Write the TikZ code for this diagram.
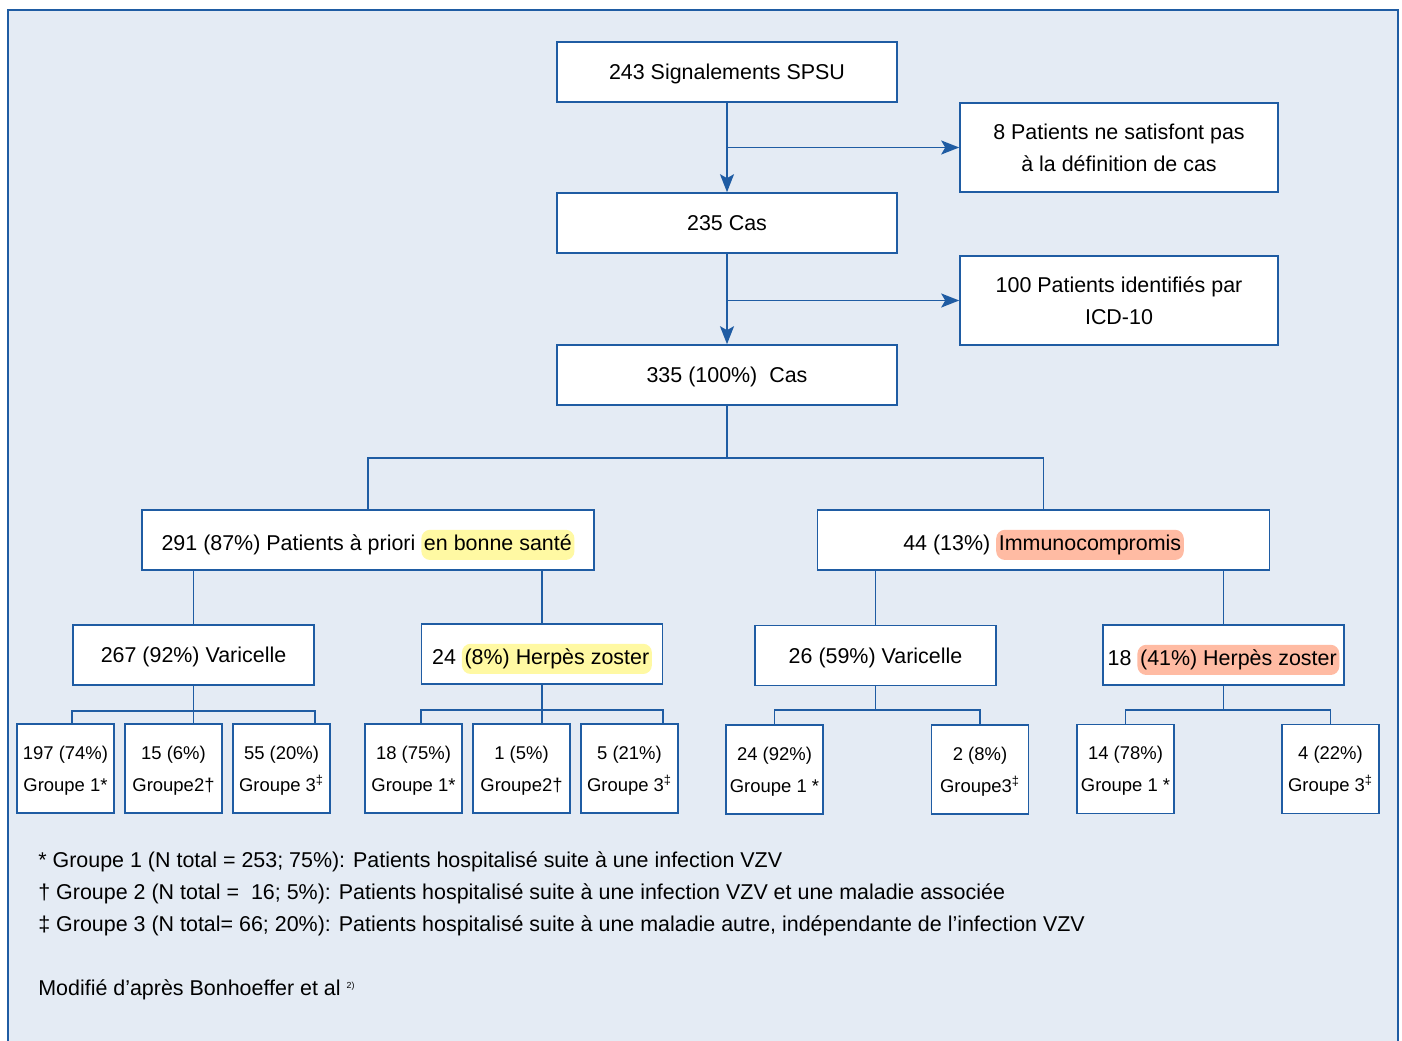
\documentclass[tikz,border=0pt]{standalone}
\usepackage{fontspec}
\setmainfont{Liberation Sans}
\usepackage{tikz}
\usetikzlibrary{arrows.meta, positioning}
\definecolor{fondbleu}{HTML}{E4EBF4}
\definecolor{traitbleu}{HTML}{1F5CA3}
\definecolor{surjaune}{HTML}{FFF9A3}
\definecolor{surrose}{HTML}{FFBBA3}
% surlignage arrondi derriere une partie du texte
\newcommand{\surligne}[2]{\tikz[baseline]\node[anchor=base,fill=#1,draw=none,rounded corners=5pt,
  minimum width=0pt,minimum height=0pt,inner xsep=1.5pt,inner ysep=2.5pt,
  text height=.75em,text depth=.25em] (hl) {#2};}

\begin{document}
\begin{tikzpicture}[x=0.2mm, y=-0.2mm, >={Stealth[length=3.6mm,width=2.8mm,inset=0.8mm]},
        boite/.style={draw=traitbleu,line width=0.9pt,fill=white,minimum width=68mm,
          minimum height=12mm,inner sep=2pt,align=center,text depth=0pt,
          font=\fontsize{12.2}{18.2}\selectfont},
        large/.style={minimum width=63.6mm,minimum height=17.8mm},
        branche/.style={minimum width=90.4mm},
        sous/.style={minimum width=48.2mm},
        feuille/.style={boite,minimum width=19.4mm,minimum height=17.8mm,inner sep=1pt,
          font=\fontsize{10.5}{18.2}\selectfont},
        lien/.style={draw=traitbleu,line width=1.1pt},
        note/.style={anchor=west,inner sep=0pt,font=\fontsize{12.2}{14}\selectfont}]
        % cadre et fond
        \useasboundingbox (0,0) rectangle (1402,1041);
        \draw[fill=fondbleu,draw=traitbleu,line width=1.2pt] (8,10) rectangle (1398,1070);
        % partie haute
        \node[boite] (signal) at (727,72) {243 Signalements SPSU};
        \node[boite,large] (exclus) at (1119,147.5) {8 Patients ne satisfont pas\\à la définition de cas};
        \node[boite] (cas) at (727,223) {235 Cas};
        \node[boite,large] (icd) at (1119,300.5) {100 Patients identifiés par\\ICD-10};
        \node[boite] (total) at (727,375) {335 (100\%)\ \ Cas};
        % deux groupes de patients
        \node[boite,branche] (sain) at (368,540) {291 (87\%) Patients à priori \surligne{surjaune}{en bonne santé}};
        \node[boite,branche] (immun) at (1043.5,540) {44 (13\%) \surligne{surrose}{Immunocompromis}};
        \node[boite,sous] (varS) at (193.5,655) {267 (92\%) Varicelle};
        \node[boite,sous] (hzS) at (542,654) {24 \surligne{surjaune}{(8\%) Herpès zoster}};
        \node[boite,sous] (varI) at (875.5,655.5) {26 (59\%) Varicelle};
        \node[boite,sous] (hzI) at (1223.5,655) {18 \surligne{surrose}{(41\%) Herpès zoster}};
        % feuilles
        \node[feuille] (g1S) at (65.5,768.5) {197 (74\%)\\Groupe 1*};
        \node[feuille] (g2S) at (173.5,768.5) {15 (6\%)\\Groupe2†};
        \node[feuille] (g3S) at (281.5,768.5) {55 (20\%)\\Groupe 3\textsuperscript{‡}};
        \node[feuille] (g1H) at (413.5,768.5) {18 (75\%)\\Groupe 1*};
        \node[feuille] (g2H) at (521.5,768.5) {1 (5\%)\\Groupe2†};
        \node[feuille] (g3H) at (629.5,768.5) {5 (21\%)\\Groupe 3\textsuperscript{‡}};
        \node[feuille] (g1V) at (774.5,769.5) {24 (92\%)\\Groupe 1 *};
        \node[feuille] (g3V) at (980,769.5) {2 (8\%)\\Groupe3\textsuperscript{‡}};
        \node[feuille] (g1Z) at (1125.5,769) {14 (78\%)\\Groupe 1 *};
        \node[feuille] (g3Z) at (1330.5,769) {4 (22\%)\\Groupe 3\textsuperscript{‡}};
        % fleches
        \draw[lien,->] (signal) -- (cas);
        \draw[lien,->] (signal.south |- exclus.west) -- (exclus.west);
        \draw[lien,->] (cas) -- (total);
        \draw[lien,->] (cas.south |- icd.west) -- (icd.west);
        % arbre
        \draw[lien] (total.south) -- ++(0,52) coordinate (j0);
        \draw[lien] (sain.north) |- (j0) -| (immun.north);
        \draw[lien] (varS.north) -- (varS.north |- sain.south);
        \draw[lien] (hzS.north) -- (hzS.north |- sain.south);
        \draw[lien] (varI.north) -- (varI.north |- immun.south);
        \draw[lien] (hzI.north) -- (hzI.north |- immun.south);
        \path (varS.south) ++(0,25) coordinate (j1);
        \draw[lien] (varS.south) -- (varS.south |- g2S.north);
        \draw[lien] (varS.west |- g1S.north) |- (j1) -| (varS.east |- g3S.north);
        \path (hzS.south) ++(0,25) coordinate (j2);
        \draw[lien] (hzS.south) -- (hzS.south |- g2H.north);
        \draw[lien] (hzS.west |- g1H.north) |- (j2) -| (hzS.east |- g3H.north);
        \draw[lien] (varI.south) -- ++(0,24) coordinate (j3);
        \draw[lien] (g1V.north) |- (j3) -| (g3V.north);
        \draw[lien] (hzI.south) -- ++(0,24) coordinate (j4);
        \draw[lien] (g1Z.north) |- (j4) -| (g3Z.north);
        % notes
        \node[note] (n1) at (38,862) {* Groupe 1 (N total = 253; 75\%): Patients hospitalisé suite à une infection VZV};
        \node[note] (n2) at (38,894) {† Groupe 2 (N total =\ \ 16; 5\%): Patients hospitalisé suite à une infection VZV et une maladie associée};
        \node[note] (n3) at (38,926) {‡ Groupe 3 (N total= 66; 20\%): Patients hospitalisé suite à une maladie autre, indépendante de l’infection VZV};
        \node[note] (n4) at (38,990) {Modifié d’après Bonhoeffer et al \textsuperscript{\tiny 2)}};
    \end{tikzpicture}
\end{document}
